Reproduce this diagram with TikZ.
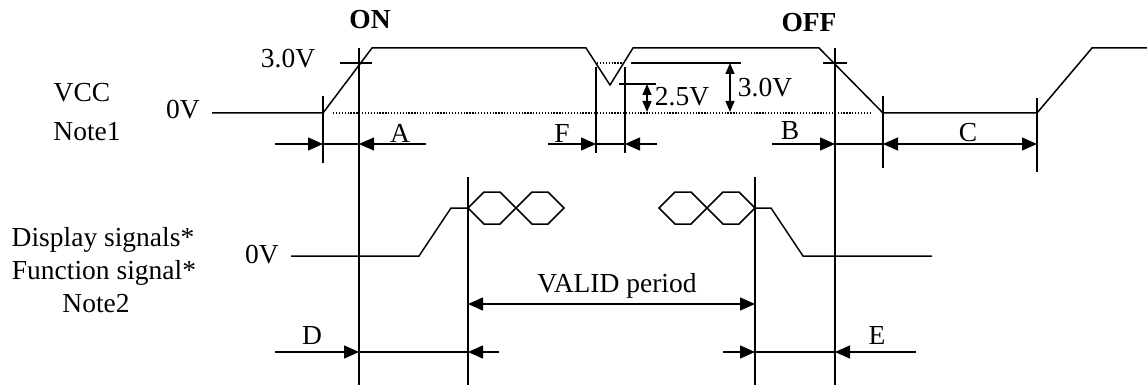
\documentclass[tikz,border=0pt]{standalone}
\usepackage{fontspec}
\setmainfont{Liberation Serif}
\usetikzlibrary{arrows.meta}

\begin{document}
\begin{tikzpicture}[x=1pt,y=-1pt,
	sig/.style={line width=1.5pt},
	dim/.style={line width=1.3pt},
	dots/.style={line width=1.1pt, dash pattern=on 1.3pt off 1.6pt},
	tip/.style={-{Triangle[length=15pt,width=13pt]}},
	both/.style={{Triangle[length=15pt,width=13pt]}-{Triangle[length=15pt,width=13pt]}},
	twin/.style={{Triangle[length=11pt,width=9pt]}-{Triangle[length=11pt,width=9pt]}},
	lbl/.style={font=\fontsize{27.5}{30}\selectfont, inner sep=0pt},
	bold/.style={lbl, font=\fontsize{27.5}{30}\selectfont\bfseries}]
\useasboundingbox (0,0) rectangle (1147,385);

% labels
\node[lbl] (vcc) at (82,93) {VCC};
\node[lbl] (note1) at (87,132) {Note1};
\node[lbl] (zero1) at (183,110) {0V};
\node[lbl, anchor=base] (disp) at (103,246) {Display signals*};
\node[lbl, anchor=base] (func) at (104,279) {Function signal*};
\node[lbl, anchor=base] (note2) at (96,312) {Note2};
\node[lbl, anchor=base] (zero2) at (262,263) {0V};
\node[bold] (on) at (370,20) {ON};
\node[bold] (off) at (809,23) {OFF};
\node[lbl] (vhi) at (288,59) {3.0V};
\node[lbl] (vmin) at (682,97) {2.5V};
\node[lbl] (vref) at (765,88) {3.0V};
\node[lbl] (la) at (400,133) {A};
\node[lbl] (lf) at (562,133) {F};
\node[lbl] (lb) at (790,131) {B};
\node[lbl] (lc) at (968,133) {C};
\node[lbl] (ld) at (312,336) {D};
\node[lbl] (le) at (877,335) {E};
\node[lbl] (valid) at (617,286) {VALID period};

% VCC waveform
\draw[sig] (212,113) -- (323,113) -- (372,48) -- (586,48) -- (610,85) -- (633,48)
	-- (819,48) -- (883,113) -- (1037,113) -- (1092,48) -- (1147,48);

% signal waveform
\draw[sig] (291,256) -- (419,256) -- (451,208) -- (468,208);
\draw[sig] (755,208) -- (771,208) -- (803,256) -- (932,256);
\foreach \a in {468,516,659,707}
	\draw[sig] (\a,208) -- (\a+16,192) -- (\a+32,192) -- (\a+48,208)
		-- (\a+32,224) -- (\a+16,224) -- cycle;

% levels
\draw[dots] (333,113) -- (872,113);
\draw[dots] (597,63) -- (623,63);
\draw[dim] (631,63) -- (741,63);
\draw[dim] (619,84) -- (656,84);
\draw[dim] (340,63) -- (372,63);
\draw[dim] (823,63) -- (847,63);

% time marks
\foreach \n/\x/\ya/\yb in {t1/323/96/163, ton/359/48/385, f1/596/67/153,
	f2/625/67/153, toff/835/48/385, t2/883/96/168, t3/1037/98/172,
	v1/468/177/385, v2/755/177/385}
	\draw[dim] (\x,\ya) coordinate (\n-top) -- (\x,\yb) coordinate (\n-bot);

% arrows, VCC row
\coordinate (a0) at (275,144);
\coordinate (a1) at (323,144);
\coordinate (a2) at (359,144);
\coordinate (a3) at (426,144);
\coordinate (f0) at (548,144);
\coordinate (f1) at (596,144);
\coordinate (f2) at (625,144);
\coordinate (f3) at (657,144);
\coordinate (b0) at (772,144);
\coordinate (b1) at (835,144);
\coordinate (b2) at (883,144);
\coordinate (c1) at (1037,144);
\draw[dim,tip] (a0) -- (a1);
\draw[dim] (a1) -- (a2);
\draw[dim,tip] (a3) -- (a2);
\draw[dim,tip] (f0) -- (f1);
\draw[dim] (f1) -- (f2);
\draw[dim,tip] (f3) -- (f2);
\draw[dim,tip] (b0) -- (b1);
\draw[dim] (b1) -- (b2);
\draw[dim,both] (b2) -- (c1);

% voltage arrows
\coordinate (u1) at (647,84);
\coordinate (u0) at (647,112);
\coordinate (w1) at (730,63);
\coordinate (w0) at (730,112);
\draw[dim,twin] (u1) -- (u0);
\draw[dim,twin] (w1) -- (w0);

% arrows, signal rows
\coordinate (p1) at (468,304);
\coordinate (p2) at (755,304);
\draw[dim,both] (p1) -- (p2);
\coordinate (d0) at (275,352);
\coordinate (d1) at (359,352);
\coordinate (d2) at (468,352);
\coordinate (d3) at (499,352);
\coordinate (e0) at (723,352);
\coordinate (e1) at (755,352);
\coordinate (e2) at (835,352);
\coordinate (e3) at (916,352);
\draw[dim,tip] (d0) -- (d1);
\draw[dim] (d1) -- (d2);
\draw[dim,tip] (d3) -- (d2);
\draw[dim,tip] (e0) -- (e1);
\draw[dim] (e1) -- (e2);
\draw[dim,tip] (e3) -- (e2);
\end{tikzpicture}
\end{document}
